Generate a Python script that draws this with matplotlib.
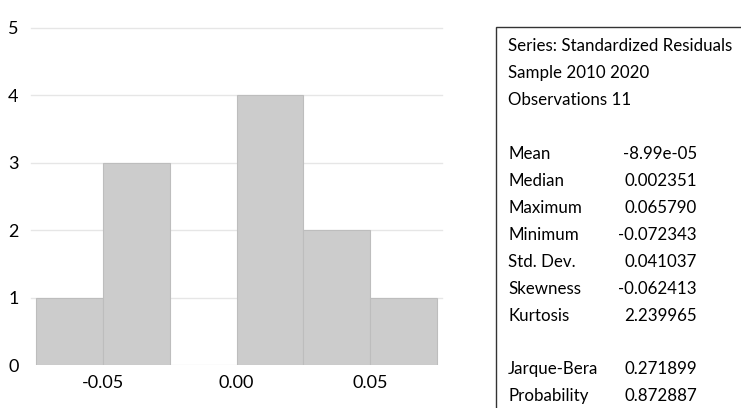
import matplotlib
matplotlib.use("Agg")
import matplotlib.pyplot as plt
from matplotlib.patches import Rectangle

plt.rcParams['font.family'] = ['Lato', 'DejaVu Sans']

# Data
bin_edges = [-0.075, -0.05, -0.025, 0.0, 0.025, 0.05, 0.075]
counts = [1, 3, 0, 4, 2, 1]
x_ticks = [-0.05, 0.0, 0.05]
x_tick_labels = ["-0.05", "0.00", "0.05"]
y_ticks = [0, 1, 2, 3, 4, 5]

header_lines = ["Series: Standardized Residuals", "Sample 2010 2020", "Observations 11"]
stat_names = ["Mean", "Median", "Maximum", "Minimum", "Std. Dev.", "Skewness", "Kurtosis"]
stat_values = ["-8.99e-05", "0.002351", "0.065790", "-0.072343", "0.041037", "-0.062413", "2.239965"]
test_names = ["Jarque-Bera", "Probability"]
test_values = ["0.271899", "0.872887"]

W, H = 741, 408
fig = plt.figure(figsize=(W / 100, H / 100), dpi=100)

left, right = 31 / W, 442 / W
bottom, top = 1 - 365 / H, 1 - 28 / H
ax = fig.add_axes([left, bottom, right - left, top - bottom])

widths = [bin_edges[i + 1] - bin_edges[i] for i in range(len(counts))]
ax.bar(bin_edges[:-1], counts, width=widths, align='edge', color='#cccccc',
       edgecolor='#bdbdbd', linewidth=0.8, zorder=2)

ax.set_xlim(-0.0769, 0.0769)
ax.set_ylim(0, 5)
ax.set_yticks(y_ticks)
ax.set_xticks(x_ticks)
ax.set_xticklabels(x_tick_labels)
for y in y_ticks[1:]:
    ax.axhline(y, color='#e6e6e6', linewidth=1.0, zorder=1, clip_on=False)
for s in ax.spines.values():
    s.set_visible(False)
ax.tick_params(axis='both', length=0, labelsize=13, colors='#000000')
ax.tick_params(axis='y', pad=9)
ax.tick_params(axis='x', pad=7)
for lab in ax.get_yticklabels():
    lab.set_horizontalalignment('right')

# Stats box
fig.patches.append(Rectangle((496 / W, -0.1), 0.5, 1 - 27 / H + 0.1,
                             transform=fig.transFigure, fill=False,
                             edgecolor='#333333', linewidth=1.0))

fs = 12.2
xl = 508 / W
xr = 697 / W
lh = 27
y0 = 46
row = 0
for line in header_lines:
    fig.text(xl, 1 - (y0 + row * lh) / H, line, fontsize=fs, va='center', ha='left')
    row += 1
row += 1
for n, v in zip(stat_names, stat_values):
    fig.text(xl, 1 - (y0 + row * lh) / H, n, fontsize=fs, va='center', ha='left')
    fig.text(xr, 1 - (y0 + row * lh) / H, v, fontsize=fs, va='center', ha='right')
    row += 1
row += 1
for n, v in zip(test_names, test_values):
    fig.text(xl, 1 - (y0 + row * lh - 1) / H, n, fontsize=fs, va='center', ha='left')
    fig.text(xr, 1 - (y0 + row * lh - 1) / H, v, fontsize=fs, va='center', ha='right')
    row += 1

fig.savefig("out.png", dpi=100)
